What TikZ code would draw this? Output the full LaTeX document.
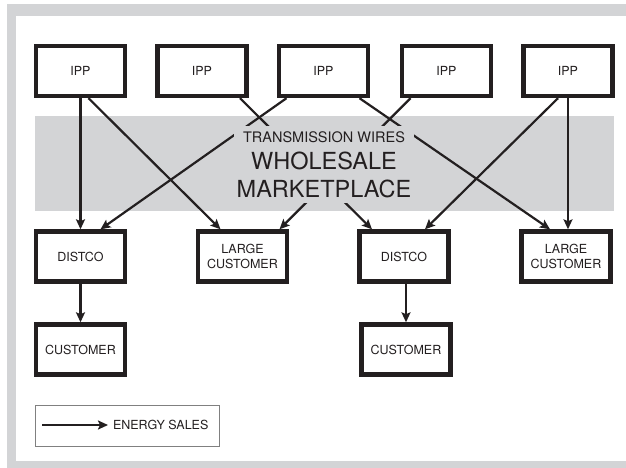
\documentclass[tikz,border=0pt]{standalone}
\usepackage{fontspec}
\setmainfont{TeX Gyre Heros}
\usetikzlibrary{arrows.meta}
\definecolor{ink}{RGB}{35,31,32}
\definecolor{panel}{RGB}{211,212,214}
\tikzset{
    firm/.style={draw=ink, line width=4.4pt, fill=white, text=ink,
        minimum width=89pt, minimum height=50pt, inner sep=1pt,
        align=center, font=\fontsize{12.5}{14.5}\selectfont},
    sale/.style={draw=ink, line width=2.2pt,
        -{Stealth[length=10pt,width=9pt,inset=2pt]}},
}
\begin{document}
\begin{tikzpicture}[x=1pt,y=-1pt]
    \useasboundingbox (0,0) rectangle (626,468);
    % Frame and marketplace band
    \fill[panel] (7,4) rectangle (626,468);
    \fill[white] (16,16) rectangle (626,461);
    \node[fill=panel, minimum width=579pt, minimum height=95pt, inner sep=0pt] (market) at (324.5,163.5) {};

    % Define node positions
    \node[firm] (ipp1) at (80.5,71) {IPP}; \node[firm] (ipp2) at (202,71) {IPP};
    \node[firm] (ipp3) at (323.5,71) {IPP}; \node[firm] (ipp4) at (446.5,71) {IPP};
    \node[firm] (ipp5) at (568,71) {IPP};
    \node[firm] (dist1) at (80.5,256.5) {DISTCO};
    \node[firm] (large1) at (242.5,256.5) {LARGE\\CUSTOMER};
    \node[firm] (dist2) at (404,256.5) {DISTCO};
    \node[firm] (large2) at (566,256.5) {LARGE\\CUSTOMER};
    \node[firm] (cust1) at (80.5,349.5) {CUSTOMER};
    \node[firm] (cust2) at (406,349.5) {CUSTOMER};

    % Draw arrows
    \draw[sale] (ipp1.south) -- (dist1.north);
    \draw[sale] ([xshift=8pt]ipp1.south) -- ([xshift=-22pt]large1.north);
    \draw[sale] ([xshift=38pt]ipp2.south) -- ([xshift=-32pt]dist2.north);
    \draw[sale] ([xshift=-37pt]ipp3.south) -- ([xshift=20pt]dist1.north);
    \draw[sale] ([xshift=36pt]ipp3.south) -- ([xshift=-16pt]large2.north);
    \draw[sale] ([xshift=-36pt]ipp4.south) -- ([xshift=37pt]large1.north);
    \draw[sale] ([xshift=-10pt]ipp5.south) -- ([xshift=21pt]dist2.north);
    \draw[sale] (ipp5.south) -- (ipp5.south |- large2.north);
    \draw[sale] (dist1.south) -- (cust1.north);
    \draw[sale] (dist2.south -| cust2.north) -- (cust2.north);

    % Marketplace label over the wires
    \node[fill=panel, text=ink, inner sep=0pt, minimum width=180pt, minimum height=77pt, align=center,
        font=\fontsize{23.5}{28}\selectfont]
        (wires) at (324,164.5) {{\fontsize{14.5}{17}\selectfont TRANSMISSION WIRES}\\[-1pt]
        WHOLESALE\\ MARKETPLACE};

    % Legend
    \node[draw=gray, line width=0.8pt, minimum width=184pt, minimum height=41pt, inner sep=0pt] (legend) at (127,425.5) {};
    \coordinate (from) at (42,425);
    \node[anchor=west, inner xsep=5pt, inner ysep=0pt, outer sep=0pt, text=ink,
        font=\fontsize{12.5}{14.5}\selectfont] (sales) at (108,425) {ENERGY SALES};
    \draw[sale] (from) -- (sales);
\end{tikzpicture}
\end{document}
